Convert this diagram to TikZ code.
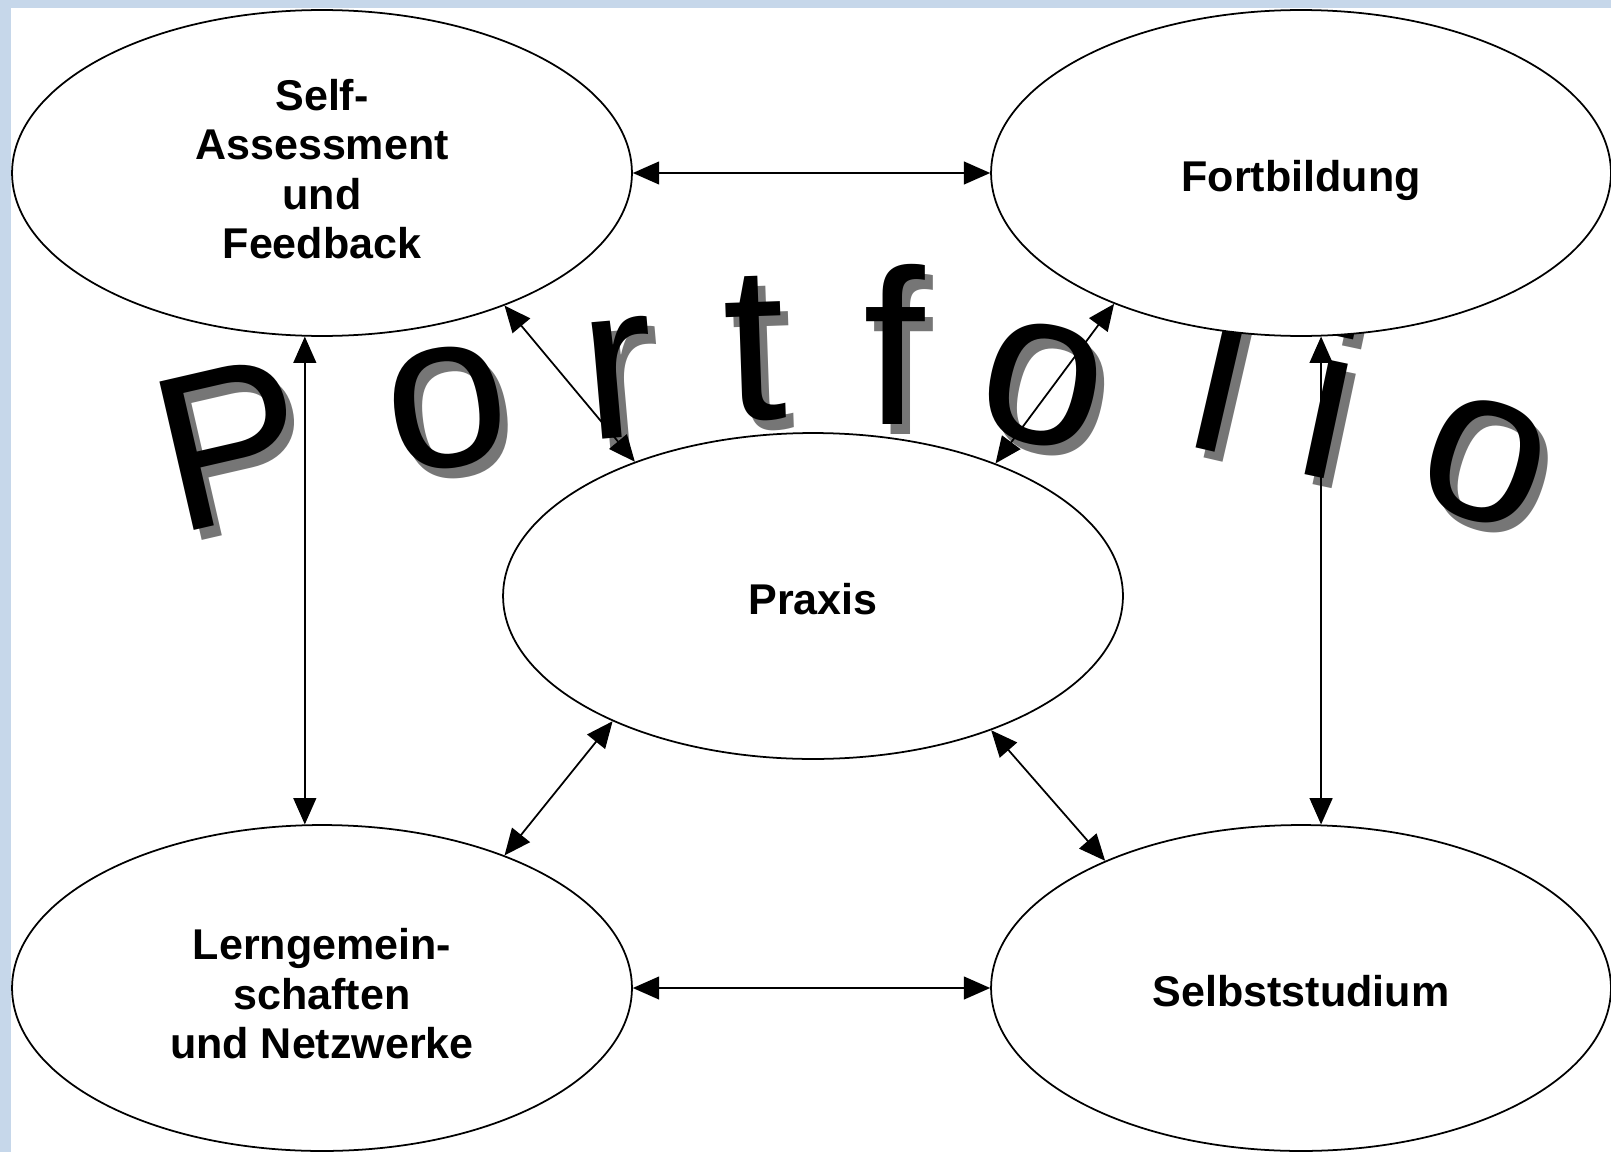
\documentclass[tikz,border=0pt]{standalone}
\usepackage{fontspec}
\setmainfont{Liberation Sans}
\usetikzlibrary{arrows.meta, shapes.geometric}
\definecolor{slideBlue}{HTML}{C6D7EA}
\definecolor{shadowGray}{HTML}{767676}

\begin{document}
\begin{tikzpicture}[
  x=0.02cm, y=-0.02cm,
  every node/.style={font=\fontsize{24.5}{28.2}\selectfont\bfseries},
  bubble/.style={ellipse, draw=black, fill=white, line width=1pt,
                 minimum width=12.4cm, minimum height=6.52cm, align=center,
                 inner sep=0pt, text depth=0pt},
  oneline/.style={text height=21.6pt},
  letter/.style={font=\fontsize{126}{126}\selectfont, inner sep=0pt},
  shade/.style={letter, text=shadowGray},
  dbl/.style={{Triangle[length=15pt,width=13pt]}-{Triangle[length=15pt,width=13pt]},
              line width=1pt}
]
\useasboundingbox (0,0) rectangle (1611,1152);
\fill[slideBlue] (0,0) rectangle (1611,1152);
\fill[white] (11,8) rectangle (1611,1152);

% arched title, shadow first
\node[shade, rotate=13]  (p1s) at (239,454)  {P};
\node[shade, rotate=8]   (o1s) at (455,418)  {o};
\node[shade, rotate=5]   (r1s) at (627,388)  {r};
\node[shade, rotate=2]   (t1s) at (763,359)  {t};
\node[shade]             (f1s) at (902,354)  {f};
\node[shade, rotate=-12] (o2s) at (1051,395) {o};
\node[shade, rotate=-13] (l1s) at (1231,382) {l};
\node[shade, rotate=-12] (i1s) at (1339,408) {i};
\node[shade, rotate=-18] (o3s) at (1493,472) {o};

\node[letter, rotate=13]  (p1) at (231,444)  {P};
\node[letter, rotate=8]   (o1) at (447,408)  {o};
\node[letter, rotate=5]   (r1) at (619,378)  {r};
\node[letter, rotate=2]   (t1) at (755,349)  {t};
\node[letter]             (f1) at (894,344)  {f};
\node[letter, rotate=-12] (o2) at (1043,385) {o};
\node[letter, rotate=-13] (l1) at (1223,372) {l};
\node[letter, rotate=-12] (i1) at (1331,398) {i};
\node[letter, rotate=-18] (o3) at (1485,462) {o};

% the five fields
\node[bubble, text height=97.6pt] (sa) at (322,173)
  {Self-\\Assessment\\und\\Feedback};
\node[bubble, oneline] (fb) at (1301,173) {Fortbildung};
\node[bubble, oneline] (px) at (813,596)  {Praxis};
\node[bubble, text height=80.6pt] (lg) at (322,988)
  {Lerngemein-\\schaften\\und Netzwerke};
\node[bubble, oneline] (ss) at (1301,988) {Selbststudium};

\draw[dbl] (sa.east) -- (fb.west);
\draw[dbl] (lg.east) -- (ss.west);
\draw[dbl] (sa.-96) -- (lg.96);
\draw[dbl] (fb.-83) -- (ss.83);
\draw[dbl] (sa.-36) -- (px.143);
\draw[dbl] (fb.-145) -- (px.36);
\draw[dbl] (px.-148) -- (lg.36);
\draw[dbl] (px.-37) -- (ss.147);
\end{tikzpicture}
\end{document}
